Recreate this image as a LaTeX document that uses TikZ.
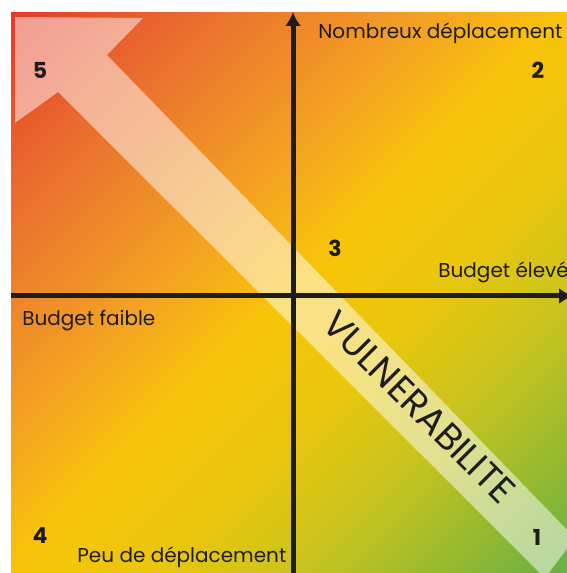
\documentclass[tikz,border=0pt]{standalone}
\usepackage{fontspec}
\setmainfont{Poppins}
\usetikzlibrary{arrows.meta}
\definecolor{vRed}{RGB}{232,58,42}
\definecolor{vOrangeRed}{RGB}{233,108,46}
\definecolor{vOrange}{RGB}{242,158,36}
\definecolor{vYellow}{RGB}{248,196,10}
\definecolor{vGold}{RGB}{234,198,12}
\definecolor{vLime}{RGB}{202,196,30}
\definecolor{vYellowGreen}{RGB}{152,186,46}
\definecolor{vGreen}{RGB}{100,176,70}
\definecolor{inkblack}{RGB}{30,28,30}
\pgfdeclarehorizontalshading{vulnshade}{100bp}{color(0bp)=(vRed); color(15bp)=(vRed);
  color(26bp)=(vOrangeRed); color(40bp)=(vOrange); color(50bp)=(vYellow);
  color(59bp)=(vGold); color(68bp)=(vLime); color(77bp)=(vYellowGreen);
  color(86bp)=(vGreen); color(100bp)=(vGreen)}
\tikzset{
  quadrant/.style  = {shading=vulnshade, shading angle=-45},
  bigarrow/.style  = {fill=white, fill opacity=0.5},
  axis/.style      = {line width=2.5pt, draw=inkblack,
                      -{Latex[length=7pt,width=8pt]}},
  quadnum/.style   = {inner sep=0pt, text=inkblack,
                      font=\bfseries\fontsize{11}{13}\selectfont},
  axislabel/.style = {anchor=west, inner sep=0pt, text=inkblack,
                      font=\fontsize{10}{12}\selectfont},
  banner/.style    = {inner sep=0pt, text=inkblack,
                      font=\fontsize{18.5}{20}\selectfont}
}
\begin{document}
\begin{tikzpicture}
  [
    x = 0.5pt,
    y = 0.5pt
  ]
  \useasboundingbox (0,0) rectangle (567,573);

  \shade[quadrant] (11,0) rectangle (567,560);
  \begin{scope}
    \clip (11,0) rectangle (567,560);
    \fill[bigarrow] (15,556) -- (143,555) -- (107,518) -- (575,35)
      -- (545,-5) -- (58,481) -- (15,450) -- cycle;
  \end{scope}

  \coordinate (west)  at (11,277);
  \coordinate (east)  at (573,277);
  \coordinate (south) at (293,0);
  \coordinate (north) at (293,561);
  \draw[axis] (west) -- (east);
  \draw[axis] (south) -- (north);

  \node[axislabel] (many)  at (318,540) {Nombreux déplacement};
  \node[axislabel] (high)  at (438,301) {Budget élevé};
  \node[axislabel] (low)   at (22,252)  {Budget faible};
  \node[axislabel] (few)   at (77,16)   {Peu de déplacement};

  \node[quadnum] (q5) at (40,503)  {5};
  \node[quadnum] (q2) at (538,503) {2};
  \node[quadnum] (q3) at (335,325) {3};
  \node[quadnum] (q4) at (40,37)   {4};
  \node[quadnum] (q1) at (537,36)  {1};

  \node[banner, rotate=-45] (vuln) at (419,166) {VULNERABILITE};
\end{tikzpicture}
\end{document}
